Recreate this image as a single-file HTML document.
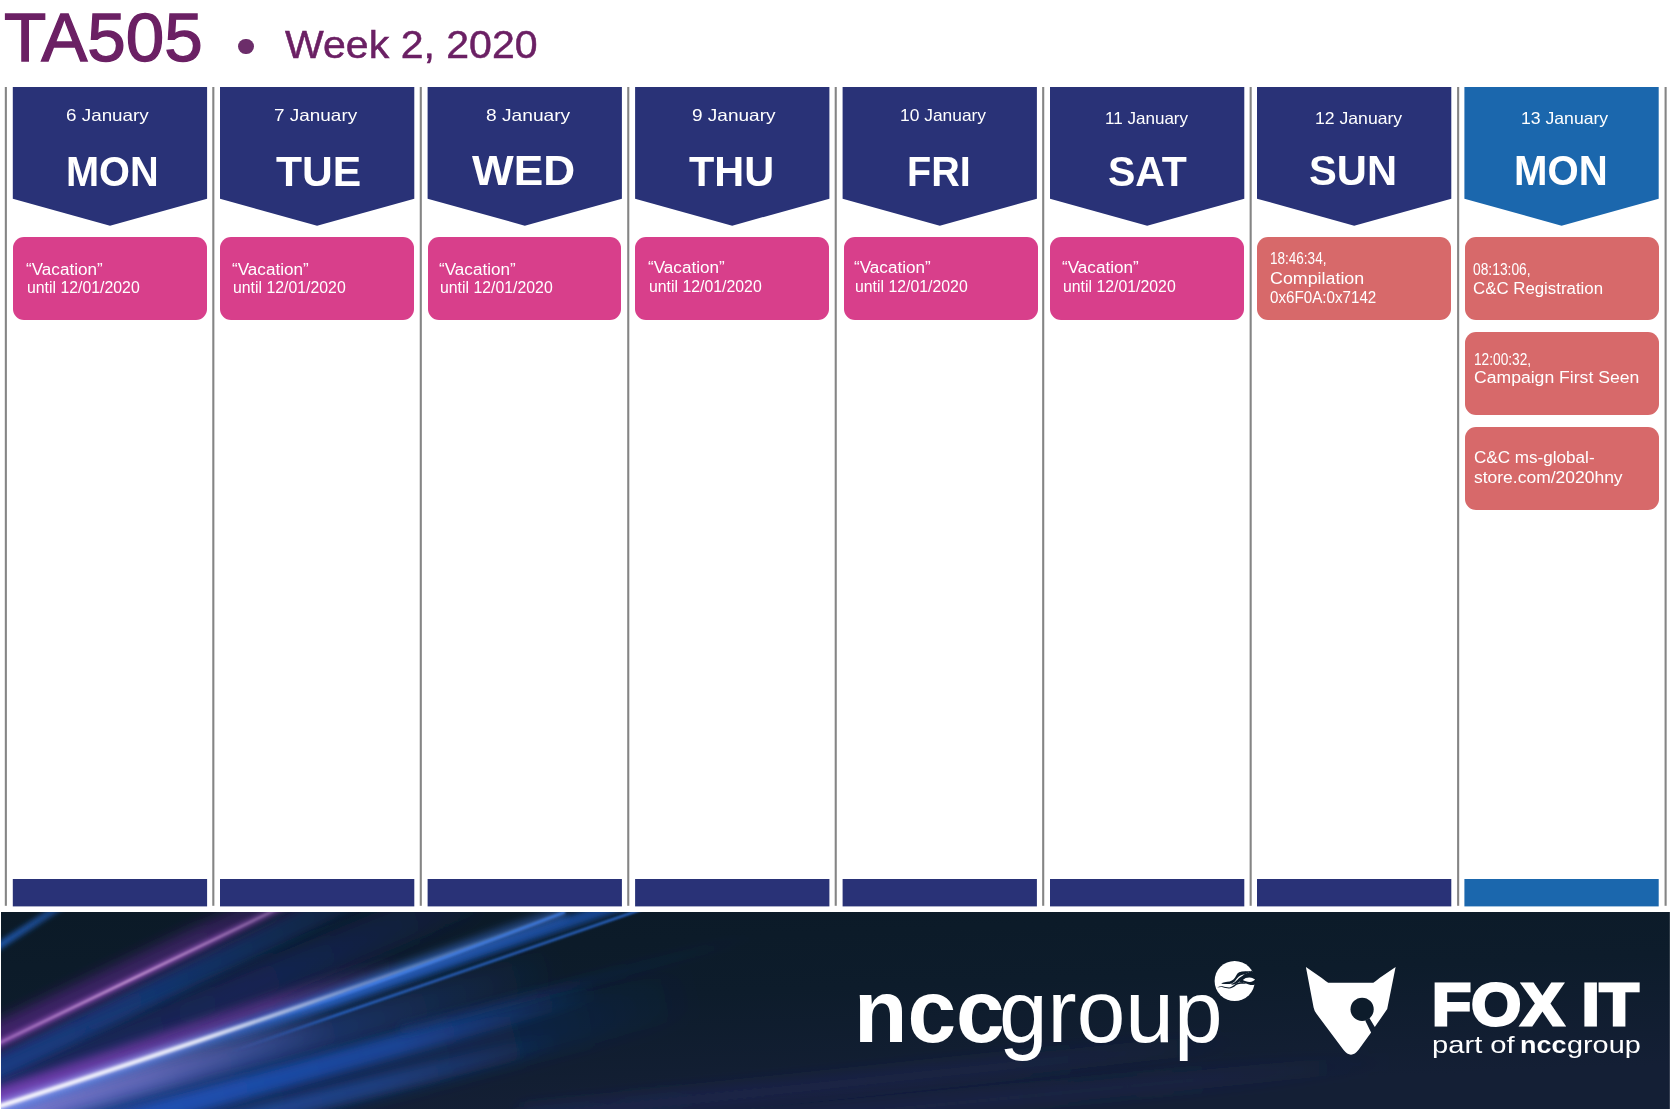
<!DOCTYPE html>
<html lang="en"><head><meta charset="utf-8"><title>TA505 - Week 2, 2020</title>
<style>
html,body{margin:0;padding:0;background:#fff}
body{width:1670px;height:1110px;position:relative;overflow:hidden;font-family:"Liberation Sans", sans-serif}
.t{position:absolute;white-space:pre;line-height:1;color:#fff;transform-origin:0 0}
.title,.week{color:#6b2064}
.day,.ncc-b,.fox,.po-b{font-weight:700}
.card{position:absolute;border-radius:11px}
.dot{position:absolute;left:238.1px;top:38.6px;width:15.7px;height:15.7px;border-radius:50%;background:#6c2d6a}
svg{position:absolute;left:0;top:0}
.edge{position:absolute;left:1669px;top:912px;width:1px;height:196.6px;background:rgba(255,255,255,.14)}
.footer{position:absolute;left:1px;top:912px;width:1669px;height:196.6px;background:#0d1c2b;overflow:hidden}
</style></head><body>
<svg width="1670" height="1110" viewBox="0 0 1670 1110" aria-hidden="true"><rect fill="#858585" x="4.80" y="87" width="2.1" height="818.8"/><rect fill="#858585" x="212.27" y="87" width="2.1" height="818.8"/><rect fill="#858585" x="419.74" y="87" width="2.1" height="818.8"/><rect fill="#858585" x="627.21" y="87" width="2.1" height="818.8"/><rect fill="#858585" x="834.68" y="87" width="2.1" height="818.8"/><rect fill="#858585" x="1042.15" y="87" width="2.1" height="818.8"/><rect fill="#858585" x="1249.62" y="87" width="2.1" height="818.8"/><rect fill="#858585" x="1457.09" y="87" width="2.1" height="818.8"/><rect fill="#858585" x="1664.56" y="87" width="2.1" height="818.8"/><polygon fill="#293277" points="12.8,87 207.1,87 207.1,198.7 110.0,225.7 12.8,198.7"/><polygon fill="#293277" points="220.0,87 414.3,87 414.3,198.7 317.1,225.7 220.0,198.7"/><polygon fill="#293277" points="427.6,87 621.9,87 621.9,198.7 524.8,225.7 427.6,198.7"/><polygon fill="#293277" points="635.1,87 829.4,87 829.4,198.7 732.2,225.7 635.1,198.7"/><polygon fill="#293277" points="842.6,87 1036.9,87 1036.9,198.7 939.8,225.7 842.6,198.7"/><polygon fill="#293277" points="1050.0,87 1244.3,87 1244.3,198.7 1147.2,225.7 1050.0,198.7"/><polygon fill="#293277" points="1257.0,87 1451.3,87 1451.3,198.7 1354.2,225.7 1257.0,198.7"/><polygon fill="#1b67ad" points="1464.4,87 1658.7,87 1658.7,198.7 1561.6,225.7 1464.4,198.7"/><rect fill="#293277" x="12.8" y="879" width="194.3" height="27.4"/><rect fill="#293277" x="220.0" y="879" width="194.3" height="27.4"/><rect fill="#293277" x="427.6" y="879" width="194.3" height="27.4"/><rect fill="#293277" x="635.1" y="879" width="194.3" height="27.4"/><rect fill="#293277" x="842.6" y="879" width="194.3" height="27.4"/><rect fill="#293277" x="1050.0" y="879" width="194.3" height="27.4"/><rect fill="#293277" x="1257.0" y="879" width="194.3" height="27.4"/><rect fill="#1b67ad" x="1464.4" y="879" width="194.3" height="27.4"/></svg>
<header>
<div class="dot"></div>
<span class="t title" style="left:3.98px;top:3.92px;font-size:67.61px;transform:scaleX(1.0236);-webkit-text-stroke:1.3px #6b2064">TA505</span><span class="t week" style="left:285.20px;top:26.40px;font-size:38.57px;transform:scaleX(1.0648);-webkit-text-stroke:0.5px #6b2064">Week 2, 2020</span>
</header>
<main>
<div class="card" style="left:12.8px;top:237.1px;width:193.9px;height:83.3px;background:#d83f8b"></div><div class="card" style="left:220.0px;top:237.1px;width:193.9px;height:83.3px;background:#d83f8b"></div><div class="card" style="left:427.6px;top:237.1px;width:193.9px;height:83.3px;background:#d83f8b"></div><div class="card" style="left:635.1px;top:237.1px;width:193.9px;height:83.3px;background:#d83f8b"></div><div class="card" style="left:844.1px;top:237.1px;width:193.9px;height:83.3px;background:#d83f8b"></div><div class="card" style="left:1050.0px;top:237.1px;width:193.9px;height:83.3px;background:#d83f8b"></div><div class="card" style="left:1257.0px;top:237.1px;width:194.3px;height:83.4px;background:#d7696a"></div><div class="card" style="left:1464.6px;top:237.1px;width:194.3px;height:83.3px;background:#d7696a"></div><div class="card" style="left:1464.6px;top:331.8px;width:194.3px;height:83.7px;background:#d7696a"></div><div class="card" style="left:1464.6px;top:427.0px;width:194.3px;height:83.3px;background:#d7696a"></div>
<span class="t date" style="left:65.76px;top:106.93px;font-size:16.5px;transform:scaleX(1.1423)">6 January</span><span class="t date" style="left:273.75px;top:106.93px;font-size:16.5px;transform:scaleX(1.1479)">7 January</span><span class="t date" style="left:485.54px;top:106.93px;font-size:16.5px;transform:scaleX(1.1620)">8 January</span><span class="t date" style="left:692.25px;top:106.93px;font-size:16.5px;transform:scaleX(1.1521)">9 January</span><span class="t date" style="left:899.75px;top:106.83px;font-size:16.5px;transform:scaleX(1.0543)">10 January</span><span class="t date" style="left:1105.27px;top:110.13px;font-size:16.5px;transform:scaleX(1.0329)">11 January</span><span class="t date" style="left:1314.53px;top:110.13px;font-size:16.5px;transform:scaleX(1.0679)">12 January</span><span class="t date" style="left:1521.43px;top:110.13px;font-size:16.5px;transform:scaleX(1.0679)">13 January</span><span class="t day" style="left:65.85px;top:150.26px;font-size:43.4px;transform:scaleX(0.9156)">MON</span><span class="t day" style="left:276.20px;top:150.26px;font-size:43.4px;transform:scaleX(0.9824)">TUE</span><span class="t day" style="left:472.30px;top:148.86px;font-size:43.4px;transform:scaleX(1.0190)">WED</span><span class="t day" style="left:689.20px;top:150.26px;font-size:43.4px;transform:scaleX(0.9540)">THU</span><span class="t day" style="left:906.77px;top:150.26px;font-size:43.4px;transform:scaleX(0.9109)">FRI</span><span class="t day" style="left:1108.26px;top:150.26px;font-size:43.4px;transform:scaleX(0.9439)">SAT</span><span class="t day" style="left:1308.94px;top:148.86px;font-size:43.4px;transform:scaleX(0.9614)">SUN</span><span class="t day" style="left:1513.62px;top:148.86px;font-size:43.4px;transform:scaleX(0.9260)">MON</span><span class="t ct" style="left:25.92px;top:261.73px;font-size:15.8px;transform:scaleX(1.0826)">“Vacation”</span><span class="t ct" style="left:26.80px;top:280.43px;font-size:15.8px;transform:scaleX(1.0027)">until 12/01/2020</span><span class="t ct" style="left:232.22px;top:261.73px;font-size:15.8px;transform:scaleX(1.0826)">“Vacation”</span><span class="t ct" style="left:233.10px;top:280.43px;font-size:15.8px;transform:scaleX(1.0027)">until 12/01/2020</span><span class="t ct" style="left:439.02px;top:261.73px;font-size:15.8px;transform:scaleX(1.0826)">“Vacation”</span><span class="t ct" style="left:439.90px;top:280.43px;font-size:15.8px;transform:scaleX(1.0027)">until 12/01/2020</span><span class="t ct" style="left:647.72px;top:259.83px;font-size:15.8px;transform:scaleX(1.0826)">“Vacation”</span><span class="t ct" style="left:648.60px;top:278.93px;font-size:15.8px;transform:scaleX(1.0027)">until 12/01/2020</span><span class="t ct" style="left:854.02px;top:259.83px;font-size:15.8px;transform:scaleX(1.0826)">“Vacation”</span><span class="t ct" style="left:854.90px;top:278.93px;font-size:15.8px;transform:scaleX(1.0027)">until 12/01/2020</span><span class="t ct" style="left:1062.22px;top:259.83px;font-size:15.8px;transform:scaleX(1.0826)">“Vacation”</span><span class="t ct" style="left:1063.10px;top:278.93px;font-size:15.8px;transform:scaleX(1.0027)">until 12/01/2020</span><span class="t ct" style="left:1270.04px;top:250.93px;font-size:15.8px;transform:scaleX(0.8562)">18:46:34,</span><span class="t ct" style="left:1269.77px;top:270.63px;font-size:15.8px;transform:scaleX(1.1293)">Compilation</span><span class="t ct" style="left:1269.94px;top:289.63px;font-size:15.8px;transform:scaleX(0.9606)">0x6F0A:0x7142</span><span class="t ct" style="left:1473.12px;top:261.53px;font-size:15.8px;transform:scaleX(0.8750)">08:13:06,</span><span class="t ct" style="left:1472.93px;top:280.73px;font-size:15.8px;transform:scaleX(1.0658)">C&amp;C Registration</span><span class="t ct" style="left:1473.83px;top:351.73px;font-size:15.8px;transform:scaleX(0.8672)">12:00:32,</span><span class="t ct" style="left:1473.59px;top:370.43px;font-size:15.8px;transform:scaleX(1.1137)">Campaign First Seen</span><span class="t ct" style="left:1473.62px;top:450.33px;font-size:15.8px;transform:scaleX(1.0818)">C&amp;C ms-global-</span><span class="t ct" style="left:1473.59px;top:469.73px;font-size:15.8px;transform:scaleX(1.1060)">store.com/2020hny</span>
</main>
<footer>
<div class="footer"><svg width="1669" height="197" viewBox="0 0 1669 197"><defs><linearGradient id="base" x1="0" y1="0" x2="0.35" y2="1"><stop offset="0" stop-color="#0b1a27"/><stop offset="0.5" stop-color="#0d1c2b"/><stop offset="1" stop-color="#141f35"/></linearGradient><filter id="b10" filterUnits="userSpaceOnUse" x="-150" y="800" width="2000" height="420"><feGaussianBlur stdDeviation="1"/></filter><filter id="b15" filterUnits="userSpaceOnUse" x="-150" y="800" width="2000" height="420"><feGaussianBlur stdDeviation="1.5"/></filter><filter id="b25" filterUnits="userSpaceOnUse" x="-150" y="800" width="2000" height="420"><feGaussianBlur stdDeviation="2.5"/></filter><filter id="b30" filterUnits="userSpaceOnUse" x="-150" y="800" width="2000" height="420"><feGaussianBlur stdDeviation="3"/></filter><filter id="b40" filterUnits="userSpaceOnUse" x="-150" y="800" width="2000" height="420"><feGaussianBlur stdDeviation="4"/></filter><filter id="b50" filterUnits="userSpaceOnUse" x="-150" y="800" width="2000" height="420"><feGaussianBlur stdDeviation="5"/></filter><filter id="b70" filterUnits="userSpaceOnUse" x="-150" y="800" width="2000" height="420"><feGaussianBlur stdDeviation="7"/></filter><filter id="b80" filterUnits="userSpaceOnUse" x="-150" y="800" width="2000" height="420"><feGaussianBlur stdDeviation="8"/></filter><filter id="b90" filterUnits="userSpaceOnUse" x="-150" y="800" width="2000" height="420"><feGaussianBlur stdDeviation="9"/></filter><filter id="b100" filterUnits="userSpaceOnUse" x="-150" y="800" width="2000" height="420"><feGaussianBlur stdDeviation="10"/></filter><linearGradient id="g1" gradientUnits="userSpaceOnUse" x1="-40" y1="1108" x2="470" y2="895"><stop offset="0" stop-color="#1b2a70" stop-opacity="0.700"/><stop offset="0.6" stop-color="#1b2a70" stop-opacity="0.560"/><stop offset="1" stop-color="#1b2a70" stop-opacity="0.140"/></linearGradient><linearGradient id="g2" gradientUnits="userSpaceOnUse" x1="-40" y1="1085" x2="360" y2="893"><stop offset="0" stop-color="#1a4aa4" stop-opacity="0.680"/><stop offset="0.5" stop-color="#1a4aa4" stop-opacity="0.544"/><stop offset="1" stop-color="#1a4aa4" stop-opacity="0.170"/></linearGradient><linearGradient id="g3" gradientUnits="userSpaceOnUse" x1="-40" y1="1054" x2="300" y2="892"><stop offset="0" stop-color="#622894" stop-opacity="0.630"/><stop offset="0.7" stop-color="#622894" stop-opacity="0.490"/><stop offset="1" stop-color="#622894" stop-opacity="0.210"/></linearGradient><linearGradient id="g4" gradientUnits="userSpaceOnUse" x1="-40" y1="1062" x2="300" y2="898"><stop offset="0" stop-color="#a05ac6" stop-opacity="0.780"/><stop offset="0.6" stop-color="#a05ac6" stop-opacity="0.741"/><stop offset="1" stop-color="#a05ac6" stop-opacity="0.468"/></linearGradient><linearGradient id="g5" gradientUnits="userSpaceOnUse" x1="-40" y1="1062" x2="300" y2="898"><stop offset="0" stop-color="#ecc4ee" stop-opacity="0.210"/><stop offset="0.5" stop-color="#ecc4ee" stop-opacity="0.700"/><stop offset="1" stop-color="#ecc4ee" stop-opacity="0.210"/></linearGradient><linearGradient id="g6" gradientUnits="userSpaceOnUse" x1="-20" y1="958" x2="70" y2="900"><stop offset="0" stop-color="#2262c4" stop-opacity="0.900"/><stop offset="1" stop-color="#2262c4" stop-opacity="0.540"/></linearGradient><linearGradient id="g7" gradientUnits="userSpaceOnUse" x1="-40" y1="1140" x2="560" y2="965"><stop offset="0" stop-color="#2a4fb0" stop-opacity="0.800"/><stop offset="0.5" stop-color="#2a4fb0" stop-opacity="0.560"/><stop offset="1" stop-color="#2a4fb0" stop-opacity="0.000"/></linearGradient><linearGradient id="g8" gradientUnits="userSpaceOnUse" x1="-40" y1="1130" x2="330" y2="1020"><stop offset="0" stop-color="#8a84dc" stop-opacity="0.900"/><stop offset="0.5" stop-color="#8a84dc" stop-opacity="0.585"/><stop offset="1" stop-color="#8a84dc" stop-opacity="0.000"/></linearGradient><linearGradient id="g9" gradientUnits="userSpaceOnUse" x1="200" y1="1046" x2="640" y2="898"><stop offset="0" stop-color="#1c5cc4" stop-opacity="0.000"/><stop offset="0.3" stop-color="#1c5cc4" stop-opacity="0.680"/><stop offset="1" stop-color="#1c5cc4" stop-opacity="0.680"/></linearGradient><linearGradient id="g10" gradientUnits="userSpaceOnUse" x1="-40" y1="1119" x2="565" y2="912"><stop offset="0" stop-color="#3f7cec" stop-opacity="0.950"/><stop offset="0.45" stop-color="#3f7cec" stop-opacity="0.760"/><stop offset="1" stop-color="#3f7cec" stop-opacity="0.427"/></linearGradient><linearGradient id="g11" gradientUnits="userSpaceOnUse" x1="-40" y1="1119" x2="250" y2="1022"><stop offset="0" stop-color="#d8c8f4" stop-opacity="0.800"/><stop offset="0.7" stop-color="#d8c8f4" stop-opacity="0.480"/><stop offset="1" stop-color="#d8c8f4" stop-opacity="0.000"/></linearGradient><linearGradient id="g12" gradientUnits="userSpaceOnUse" x1="-40" y1="1108" x2="400" y2="960"><stop offset="0" stop-color="#8a3fc0" stop-opacity="0.750"/><stop offset="0.7" stop-color="#8a3fc0" stop-opacity="0.450"/><stop offset="1" stop-color="#8a3fc0" stop-opacity="0.000"/></linearGradient><linearGradient id="g13" gradientUnits="userSpaceOnUse" x1="-40" y1="1119" x2="565" y2="912"><stop offset="0" stop-color="#ffffff" stop-opacity="1.000"/><stop offset="0.4" stop-color="#ffffff" stop-opacity="0.900"/><stop offset="0.65" stop-color="#ffffff" stop-opacity="0.350"/><stop offset="1" stop-color="#ffffff" stop-opacity="0.050"/></linearGradient><linearGradient id="g14" gradientUnits="userSpaceOnUse" x1="250" y1="1028" x2="565" y2="912"><stop offset="0" stop-color="#3f80f0" stop-opacity="0.000"/><stop offset="0.4" stop-color="#3f80f0" stop-opacity="0.810"/><stop offset="1" stop-color="#3f80f0" stop-opacity="0.810"/></linearGradient><linearGradient id="g15" gradientUnits="userSpaceOnUse" x1="230" y1="1052" x2="660" y2="903"><stop offset="0" stop-color="#2f74e6" stop-opacity="0.000"/><stop offset="0.25" stop-color="#2f74e6" stop-opacity="0.760"/><stop offset="1" stop-color="#2f74e6" stop-opacity="0.855"/></linearGradient><linearGradient id="g16" gradientUnits="userSpaceOnUse" x1="60" y1="1150" x2="700" y2="990"><stop offset="0" stop-color="#173a8c" stop-opacity="0.550"/><stop offset="0.6" stop-color="#173a8c" stop-opacity="0.330"/><stop offset="1" stop-color="#173a8c" stop-opacity="0.000"/></linearGradient><linearGradient id="g17" gradientUnits="userSpaceOnUse" x1="100" y1="1128" x2="600" y2="988"><stop offset="0" stop-color="#1f58c6" stop-opacity="0.850"/><stop offset="0.6" stop-color="#1f58c6" stop-opacity="0.595"/><stop offset="1" stop-color="#1f58c6" stop-opacity="0.000"/></linearGradient><linearGradient id="g18" gradientUnits="userSpaceOnUse" x1="120" y1="1150" x2="560" y2="1040"><stop offset="0" stop-color="#2a66d0" stop-opacity="0.600"/><stop offset="0.6" stop-color="#2a66d0" stop-opacity="0.360"/><stop offset="1" stop-color="#2a66d0" stop-opacity="0.000"/></linearGradient><linearGradient id="g19" gradientUnits="userSpaceOnUse" x1="400" y1="1030" x2="760" y2="935"><stop offset="0" stop-color="#1d3f8a" stop-opacity="0.320"/><stop offset="1" stop-color="#1d3f8a" stop-opacity="0.000"/></linearGradient><linearGradient id="g20" gradientUnits="userSpaceOnUse" x1="520" y1="1118" x2="1250" y2="1040"><stop offset="0" stop-color="#2c3078" stop-opacity="0.360"/><stop offset="0.7" stop-color="#2c3078" stop-opacity="0.240"/><stop offset="1" stop-color="#2c3078" stop-opacity="0.000"/></linearGradient><linearGradient id="g21" gradientUnits="userSpaceOnUse" x1="700" y1="1128" x2="1400" y2="1060"><stop offset="0" stop-color="#2c3078" stop-opacity="0.315"/><stop offset="0.7" stop-color="#2c3078" stop-opacity="0.210"/><stop offset="1" stop-color="#2c3078" stop-opacity="0.000"/></linearGradient></defs>
<rect width="1669" height="197" fill="url(#base)"/>
<g transform="translate(-1,-912)"><path d="M-40,1108 L470,895" fill="none" stroke="url(#g1)" stroke-width="40" filter="url(#b90)"/><path d="M-40,1085 L360,893" fill="none" stroke="url(#g2)" stroke-width="24" filter="url(#b50)"/><path d="M-40,1054 L300,892" fill="none" stroke="url(#g3)" stroke-width="26" filter="url(#b70)"/><path d="M-40,1062 L300,898" fill="none" stroke="url(#g4)" stroke-width="6" filter="url(#b25)"/><path d="M-40,1062 L300,898" fill="none" stroke="url(#g5)" stroke-width="2" filter="url(#b10)"/><path d="M-20,958 L70,900" fill="none" stroke="url(#g6)" stroke-width="7" filter="url(#b25)"/><path d="M-40,1140 L560,965" fill="none" stroke="url(#g7)" stroke-width="40" filter="url(#b90)"/><path d="M-40,1130 L330,1020" fill="none" stroke="url(#g8)" stroke-width="34" filter="url(#b80)"/><path d="M200,1046 L640,898" fill="none" stroke="url(#g9)" stroke-width="12" filter="url(#b30)"/><path d="M-40,1119 Q300,1010 565,912" fill="none" stroke="url(#g10)" stroke-width="13" filter="url(#b40)"/><path d="M-40,1119 L250,1022" fill="none" stroke="url(#g11)" stroke-width="9" filter="url(#b30)"/><path d="M-40,1108 Q250,1012 400,960" fill="none" stroke="url(#g12)" stroke-width="16" filter="url(#b50)"/><path d="M-40,1119 Q300,1010 565,912" fill="none" stroke="url(#g13)" stroke-width="4" filter="url(#b15)"/><path d="M250,1028 Q420,968 565,912" fill="none" stroke="url(#g14)" stroke-width="2.5" filter="url(#b10)"/><path d="M230,1052 L660,903" fill="none" stroke="url(#g15)" stroke-width="2.4" filter="url(#b10)"/><path d="M60,1150 L700,990" fill="none" stroke="url(#g16)" stroke-width="50" filter="url(#b100)"/><path d="M100,1128 L600,988" fill="none" stroke="url(#g17)" stroke-width="22" filter="url(#b50)"/><path d="M120,1150 L560,1040" fill="none" stroke="url(#g18)" stroke-width="18" filter="url(#b50)"/><path d="M400,1030 L760,935" fill="none" stroke="url(#g19)" stroke-width="10" filter="url(#b50)"/><path d="M520,1118 L1250,1040" fill="none" stroke="url(#g20)" stroke-width="20" filter="url(#b80)"/><path d="M700,1128 L1400,1060" fill="none" stroke="url(#g21)" stroke-width="18" filter="url(#b80)"/><g transform="translate(1200,955) scale(0.04953)">
<circle cx="700" cy="525" r="405" fill="#fff"/>
<g fill="#0d1c2b">
<path d="M1048,316 C960,336 860,316 790,348 C735,376 725,443 680,490 C640,533 565,543 500,548 C470,551 445,563 428,578 C490,580 570,594 640,574 C690,554 715,512 745,472 C790,417 840,397 905,388 L930,380 Z"/>
<path d="M900,390 L1048,316 L1130,420 L1130,560 L1100,602 C1040,617 980,602 930,577 C890,557 860,547 790,550 L825,500 Z"/>
<path d="M625,582 C700,572 750,502 790,464 C830,432 875,407 905,388 L940,395 C910,440 870,475 835,508 C780,548 720,592 645,602 Z"/>
<path d="M345,657 C380,635 420,625 455,630 C500,640 540,655 590,655 C640,650 680,610 720,580 C760,555 800,545 860,543 L935,578 L860,582 C800,572 760,587 720,617 C680,652 640,674 585,674 C540,674 500,662 460,650 C420,642 380,650 345,657 Z"/>
</g>
<path fill="#fff" d="M865,505 C900,465 950,450 1000,452 C1050,455 1090,475 1112,495 C1080,530 1040,548 1000,545 C950,540 900,525 865,505 Z"/>
</g><path fill="#fff" d="M1305.9,966.9 L1321.8,977.9 Q1325,980.5 1328.2,982.7 L1373.3,982.7 Q1376.5,980.5 1379.5,977.9 L1395.6,967.1 L1387.2,1009 L1374.8,1027.1 L1369.4,1017.9 L1365.2,1020.4 L1371.1,1032.5 L1358.6,1049.8 Q1351,1059.5 1343.4,1049.8 L1316.5,1013.8 Q1314.3,1011 1313.6,1007.5 Z"/>
<circle cx="1362.1" cy="1009.3" r="11.6" fill="#0d1c2b"/></g></svg></div><div class="edge"></div>
<span class="t ncc-b" style="left:853.90px;top:966.86px;font-size:89.0px;transform:scaleX(0.9826)">ncc</span><span class="t ncc-l" style="left:999.47px;top:966.86px;font-size:89.0px;transform:scaleX(0.9818)">group</span><span class="t fox" style="left:1432.05px;top:974.83px;font-size:59.74px;transform:scaleX(1.0738);-webkit-text-stroke:3.0px #fff">FOX IT</span><span class="t po" style="left:1431.97px;top:1033.08px;font-size:24.0px;transform:scaleX(1.2152)">part of</span><span class="t po-b" style="left:1520.45px;top:1033.08px;font-size:24.0px;transform:scaleX(1.1231)">ncc</span><span class="t po" style="left:1567.30px;top:1033.08px;font-size:24.0px;transform:scaleX(1.2000)">group</span>
</footer>
</body></html>
